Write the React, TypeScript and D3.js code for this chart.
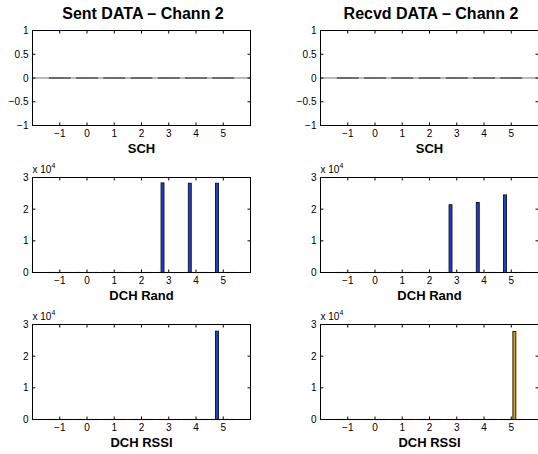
import React from "react";
import * as d3 from "d3";

// ---- data ----
const groups = [-1, 0, 1, 2, 3, 4, 5];
const seriesColors = ["#00007f", "#1c3fd6", "#00b8e8", "#5fd070", "#c8a200", "#e0401c", "#8a0000"];
const xTicks = [-1, 0, 1, 2, 3, 4, 5];
const yTicksSCH = [-1, -0.5, 0, 0.5, 1];
const yTickLabelsSCH = ["\u22121", "\u22120.5", "0", "0.5", "1"];
const yTicksCount = [0, 10000, 20000, 30000];
const yTickLabelsCount = ["0", "1", "2", "3"];

// rows = groups (-1..5), columns = series 1..7
const sentSCH = [
  [0, 0, 0, 0, 0, 0, 0],
  [0, 0, 0, 0, 0, 0, 0],
  [0, 0, 0, 0, 0, 0, 0],
  [0, 0, 0, 0, 0, 0, 0],
  [0, 0, 0, 0, 0, 0, 0],
  [0, 0, 0, 0, 0, 0, 0],
  [0, 0, 0, 0, 0, 0, 0],
];
const recvdSCH = [
  [0, 0, 0, 0, 0, 0, 0],
  [0, 0, 0, 0, 0, 0, 0],
  [0, 0, 0, 0, 0, 0, 0],
  [0, 0, 0, 0, 0, 0, 0],
  [0, 0, 0, 0, 0, 0, 0],
  [0, 0, 0, 0, 0, 0, 0],
  [0, 0, 0, 0, 0, 0, 0],
];
const sentDCHRand = [
  [0, 0, 0, 0, 0, 0, 0],
  [0, 0, 0, 0, 0, 0, 0],
  [0, 0, 0, 0, 0, 0, 0],
  [0, 0, 0, 0, 0, 0, 0],
  [0, 28300, 0, 0, 0, 0, 0],
  [0, 28200, 0, 0, 0, 0, 0],
  [0, 28200, 0, 0, 0, 0, 0],
];
const recvdDCHRand = [
  [0, 0, 0, 0, 0, 0, 0],
  [0, 0, 0, 0, 0, 0, 0],
  [0, 0, 0, 0, 0, 0, 0],
  [0, 0, 0, 0, 0, 0, 0],
  [0, 21400, 0, 0, 0, 0, 0],
  [0, 22100, 0, 0, 0, 0, 0],
  [0, 24500, 0, 0, 0, 0, 0],
];
const sentDCHRSSI = [
  [0, 0, 0, 0, 0, 0, 0],
  [0, 0, 0, 0, 0, 0, 0],
  [0, 0, 0, 0, 0, 0, 0],
  [0, 0, 0, 0, 0, 0, 0],
  [0, 0, 0, 0, 0, 0, 0],
  [0, 0, 0, 0, 0, 0, 0],
  [0, 27900, 0, 0, 0, 0, 0],
];
const recvdDCHRSSI = [
  [0, 0, 0, 0, 0, 0, 0],
  [0, 0, 0, 0, 0, 0, 0],
  [0, 0, 0, 0, 0, 0, 0],
  [0, 0, 0, 0, 0, 0, 0],
  [0, 0, 0, 0, 0, 0, 0],
  [0, 0, 0, 0, 0, 0, 0],
  [0, 0, 0, 0, 27800, 0, 0],
];

const colTitles = ["Sent DATA \u2013 Chann 2", "Recvd DATA \u2013 Chann 2"];
const rowLabels = ["SCH", "DCH Rand", "DCH RSSI"];

const panels = [
  [sentSCH, recvdSCH],
  [sentDCHRand, recvdDCHRand],
  [sentDCHRSSI, recvdDCHRSSI],
];

// ---- layout ----
const W = 538;
const H = 454;
const colX = [32.5, 320.5];
const axW = 218;
const rowY = [30.5, 177.5, 324.5];
const axH = 95;
const FONT = "'Liberation Sans', Arial, Helvetica, sans-serif";

function Panel({ data, r, c }: { data: number[][]; r: number; c: number }) {
  const x0 = colX[c];
  const y0 = rowY[r];
  const x = d3.scaleLinear().domain([-2, 6]).range([x0, x0 + axW]);
  const isSCH = r === 0;
  const y = d3
    .scaleLinear()
    .domain(isSCH ? [-1, 1] : [0, 30000])
    .range([y0 + axH, y0]);
  const yTicks = isSCH ? yTicksSCH : yTicksCount;
  const yLabels = isSCH ? yTickLabelsSCH : yTickLabelsCount;
  const n = seriesColors.length;
  const groupW = 0.8;
  const step = groupW / n;
  const barW = step * 0.95;
  const base = y(0);
  const tl = 3;

  const bars: React.ReactNode[] = [];
  data.forEach((row, gi) => {
    row.forEach((v, si) => {
      const cx = groups[gi] - groupW / 2 + step * (si + 0.5);
      const bx = x(cx - barW / 2);
      const bw = x(cx + barW / 2) - bx;
      if (v === 0) {
        bars.push(
          <line
            key={`z${gi}-${si}`}
            x1={x(cx - step / 2)}
            x2={x(cx + step / 2)}
            y1={base}
            y2={base}
            stroke="#2a2a2a"
            strokeWidth={1.1}
          />
        );
      } else {
        const top = y(v);
        bars.push(
          <rect
            key={`b${gi}-${si}`}
            x={bx}
            y={top}
            width={bw}
            height={base - top}
            fill={seriesColors[si]}
            stroke="#111"
            strokeWidth={0.9}
          />
        );
      }
    });
  });

  return (
    <g>
      {isSCH && (
        <line x1={x0} x2={x0 + axW} y1={base} y2={base} stroke="#777" strokeWidth={1} />
      )}
      {bars}
      {xTicks.map((t) => (
        <g key={`xt${t}`}>
          <line x1={x(t)} x2={x(t)} y1={y0 + axH} y2={y0 + axH - tl} stroke="#000" strokeWidth={1} />
          <line x1={x(t)} x2={x(t)} y1={y0} y2={y0 + tl} stroke="#000" strokeWidth={1} />
          <text
            x={x(t)}
            y={y0 + axH + 11.5}
            textAnchor="middle"
            fontFamily={FONT}
            fontSize={10}
          >
            {t < 0 ? `\u2212${Math.abs(t)}` : `${t}`}
          </text>
        </g>
      ))}
      {yTicks.map((t, i) => (
        <g key={`yt${i}`}>
          <line x1={x0} x2={x0 + tl} y1={y(t)} y2={y(t)} stroke="#000" strokeWidth={1} />
          <line x1={x0 + axW} x2={x0 + axW - tl} y1={y(t)} y2={y(t)} stroke="#000" strokeWidth={1} />
          <text
            x={x0 - 4}
            y={y(t) + 3.5}
            textAnchor="end"
            fontFamily={FONT}
            fontSize={10}
          >
            {yLabels[i]}
          </text>
        </g>
      ))}
      <rect x={x0} y={y0} width={axW} height={axH} fill="none" stroke="#000" strokeWidth={1} />
      {!isSCH && (
        <text x={x0} y={y0 - 5} fontFamily={FONT} fontSize={10}>
          x 10
          <tspan dy={-4.5} fontSize={7}>
            4
          </tspan>
        </text>
      )}
      <text
        x={x0 + axW / 2}
        y={y0 + axH + 27}
        textAnchor="middle"
        fontFamily={FONT}
        fontSize={13}
        fontWeight="bold"
      >
        {rowLabels[r]}
      </text>
      {r === 0 && (
        <text
          x={x0 + axW / 2 + 1.5}
          y={y0 - 11.3}
          textAnchor="middle"
          fontFamily={FONT}
          fontSize={16}
          fontWeight="bold"
        >
          {colTitles[c]}
        </text>
      )}
    </g>
  );
}

export default function App() {
  return (
    <svg
      width={W}
      height={H}
      viewBox={`0 0 ${W} ${H}`}
      style={{ position: "absolute", left: 0, top: 0, background: "#fff" }}
    >
      <rect x={0} y={0} width={W} height={H} fill="#fff" />
      {panels.map((row, r) =>
        row.map((d, c) => <Panel key={`${r}-${c}`} data={d} r={r} c={c} />)
      )}
    </svg>
  );
}
